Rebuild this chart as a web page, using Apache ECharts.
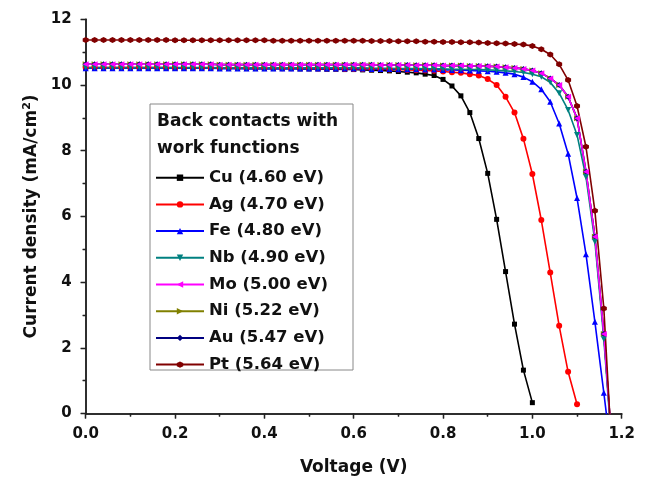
<!DOCTYPE html>
<html>
<head>
<meta charset="utf-8">
<script src="https://cdn.jsdelivr.net/npm/echarts@6/dist/echarts.min.js"></script>
<style>
  html, body { margin: 0; padding: 0; background: #fff; }
  #chart { width: 651px; height: 484px; }
</style>
</head>
<body>
<div id="chart"></div>
<script>
// voltage steps (V)
const voltage = [
  0.00, 0.02, 0.04, 0.06, 0.08, 0.10, 0.12, 0.14, 0.16, 0.18,
  0.20, 0.22, 0.24, 0.26, 0.28, 0.30, 0.32, 0.34, 0.36, 0.38,
  0.40, 0.42, 0.44, 0.46, 0.48, 0.50, 0.52, 0.54, 0.56, 0.58,
  0.60, 0.62, 0.64, 0.66, 0.68, 0.70, 0.72, 0.74, 0.76, 0.78,
  0.80, 0.82, 0.84, 0.86, 0.88, 0.90, 0.92, 0.94, 0.96, 0.98,
  1.00, 1.02, 1.04, 1.06, 1.08, 1.10, 1.12, 1.14, 1.16, 1.18
]

// current density (mA/cm2) per back contact
const cuJ = [
  10.52, 10.52, 10.52, 10.52, 10.52, 10.52, 10.52, 10.52, 10.52, 10.52,
  10.51, 10.51, 10.51, 10.51, 10.51, 10.51, 10.51, 10.51, 10.50, 10.50,
  10.50, 10.50, 10.50, 10.50, 10.49, 10.49, 10.49, 10.48, 10.48, 10.47,
  10.47, 10.46, 10.45, 10.44, 10.43, 10.41, 10.39, 10.37, 10.33, 10.29,
  10.17, 9.97, 9.67, 9.16, 8.37, 7.31, 5.91, 4.32, 2.72, 1.32,
  0.33
]
const agJ = [
  10.53, 10.53, 10.53, 10.53, 10.53, 10.53, 10.53, 10.53, 10.53, 10.53,
  10.52, 10.52, 10.52, 10.52, 10.52, 10.52, 10.52, 10.52, 10.52, 10.52,
  10.52, 10.52, 10.51, 10.51, 10.51, 10.51, 10.50, 10.50, 10.50, 10.49,
  10.49, 10.49, 10.48, 10.48, 10.47, 10.47, 10.46, 10.45, 10.44, 10.43,
  10.41, 10.39, 10.37, 10.33, 10.29, 10.18, 10.00, 9.64, 9.16, 8.36,
  7.29, 5.89, 4.29, 2.67, 1.27, 0.28
]
const feJ = [
  10.51, 10.51, 10.51, 10.51, 10.51, 10.51, 10.51, 10.51, 10.51, 10.51,
  10.51, 10.51, 10.51, 10.51, 10.51, 10.50, 10.50, 10.50, 10.50, 10.50,
  10.50, 10.50, 10.50, 10.50, 10.50, 10.50, 10.50, 10.50, 10.50, 10.50,
  10.50, 10.50, 10.49, 10.49, 10.49, 10.48, 10.48, 10.48, 10.47, 10.47,
  10.46, 10.46, 10.45, 10.44, 10.43, 10.42, 10.40, 10.37, 10.33, 10.24,
  10.10, 9.87, 9.49, 8.83, 7.91, 6.56, 4.85, 2.79, 0.63, -1.60
]
const nbJ = [
  10.53, 10.53, 10.53, 10.53, 10.53, 10.53, 10.53, 10.53, 10.53, 10.53,
  10.53, 10.53, 10.53, 10.53, 10.53, 10.52, 10.52, 10.52, 10.52, 10.52,
  10.52, 10.52, 10.52, 10.52, 10.52, 10.52, 10.52, 10.52, 10.52, 10.52,
  10.52, 10.52, 10.51, 10.51, 10.51, 10.50, 10.50, 10.50, 10.49, 10.49,
  10.49, 10.48, 10.48, 10.47, 10.47, 10.46, 10.45, 10.43, 10.41, 10.38,
  10.33, 10.25, 10.08, 9.75, 9.24, 8.48, 7.20, 5.23, 2.26, -1.40
]
const moJ = [
  10.63, 10.63, 10.63, 10.63, 10.63, 10.63, 10.63, 10.63, 10.63, 10.63,
  10.63, 10.63, 10.63, 10.63, 10.63, 10.62, 10.62, 10.62, 10.62, 10.62,
  10.62, 10.62, 10.62, 10.62, 10.62, 10.62, 10.62, 10.62, 10.62, 10.62,
  10.62, 10.62, 10.62, 10.61, 10.61, 10.61, 10.61, 10.60, 10.60, 10.60,
  10.59, 10.59, 10.59, 10.58, 10.58, 10.57, 10.56, 10.54, 10.52, 10.49,
  10.44, 10.36, 10.20, 10.00, 9.64, 8.99, 7.36, 5.38, 2.42, -1.30
]
const niJ = [
  10.63, 10.63, 10.63, 10.63, 10.63, 10.63, 10.63, 10.63, 10.63, 10.63,
  10.63, 10.63, 10.63, 10.63, 10.63, 10.62, 10.62, 10.62, 10.62, 10.62,
  10.62, 10.62, 10.62, 10.62, 10.62, 10.62, 10.62, 10.62, 10.62, 10.62,
  10.62, 10.62, 10.62, 10.61, 10.61, 10.61, 10.61, 10.60, 10.60, 10.60,
  10.59, 10.59, 10.59, 10.58, 10.58, 10.57, 10.56, 10.54, 10.52, 10.49,
  10.44, 10.36, 10.20, 10.00, 9.64, 8.99, 7.36, 5.38, 2.42, -1.30
]
const auJ = [
  10.63, 10.63, 10.63, 10.63, 10.63, 10.63, 10.63, 10.63, 10.63, 10.63,
  10.63, 10.63, 10.63, 10.63, 10.63, 10.62, 10.62, 10.62, 10.62, 10.62,
  10.62, 10.62, 10.62, 10.62, 10.62, 10.62, 10.62, 10.62, 10.62, 10.62,
  10.62, 10.62, 10.62, 10.61, 10.61, 10.61, 10.61, 10.60, 10.60, 10.60,
  10.59, 10.59, 10.59, 10.58, 10.58, 10.57, 10.56, 10.54, 10.52, 10.49,
  10.44, 10.36, 10.20, 10.00, 9.64, 8.99, 7.36, 5.38, 2.42, -1.30
]
const ptJ = [
  11.37, 11.37, 11.37, 11.37, 11.37, 11.37, 11.37, 11.37, 11.37, 11.37,
  11.36, 11.36, 11.36, 11.36, 11.36, 11.36, 11.36, 11.36, 11.36, 11.36,
  11.36, 11.35, 11.35, 11.35, 11.35, 11.35, 11.35, 11.35, 11.35, 11.35,
  11.35, 11.35, 11.34, 11.34, 11.34, 11.33, 11.33, 11.33, 11.32, 11.32,
  11.31, 11.31, 11.30, 11.30, 11.29, 11.28, 11.27, 11.26, 11.25, 11.23,
  11.19, 11.09, 10.93, 10.63, 10.15, 9.36, 8.12, 6.17, 3.20, -1.70
]

const legendNames = [
  'Cu (4.60 eV)', 'Ag (4.70 eV)', 'Fe (4.80 eV)', 'Nb (4.90 eV)',
  'Mo (5.00 eV)', 'Ni (5.22 eV)', 'Au (5.47 eV)', 'Pt (5.64 eV)'
]
const xTicks = [0.0, 0.2, 0.4, 0.6, 0.8, 1.0, 1.2]
const yTicks = [0, 2, 4, 6, 8, 10, 12]

// marker shapes
const triDown = 'path://M0,0 L10,0 L5,10 Z'
const triLeft = 'path://M10,0 L10,10 L0,5 Z'
const triRight = 'path://M0,0 L0,10 L10,5 Z'
const hexagon = 'path://M5,0 L9.33,2.5 L9.33,7.5 L5,10 L0.67,7.5 L0.67,2.5 Z'

const FONT = 'DejaVu Sans'

function pairs(ys) {
  return ys.map((y, i) => [voltage[i], y])
}

function lineSeries(name, ys, color, symbol, size) {
  return {
    name: name,
    type: 'line',
    data: pairs(ys),
    symbol: symbol,
    symbolSize: size,
    showAllSymbol: true,
    clip: true,
    lineStyle: { color: color, width: 1.6 },
    itemStyle: { color: color },
    emphasis: { disabled: true }
  }
}

const chart = echarts.init(document.getElementById('chart'), null, { renderer: 'canvas' })

const axisLine = { show: true, lineStyle: { color: '#222', width: 1.5 } }

const option = {
  animation: false,
  backgroundColor: '#fff',
  grid: { left: 85.7, right: 29.3, top: 19.3, bottom: 70.5 },
  legend: {
    data: legendNames,
    orient: 'vertical',
    left: 150,
    top: 162.7,
    itemWidth: 48,
    itemHeight: 8,
    itemGap: 6.7,
    textStyle: { fontFamily: FONT, fontWeight: 'bold', fontSize: 16.5, color: '#111', lineHeight: 20 },
    selectedMode: false
  },
  graphic: [
    {
      type: 'rect',
      shape: { x: 150, y: 104, width: 203, height: 266 },
      style: { fill: '#fff', stroke: '#888', lineWidth: 1 },
      z: 1
    },
    {
      type: 'text',
      left: 157,
      top: 108.4,
      style: {
        text: 'Back contacts with\nwork functions',
        fontFamily: FONT,
        fontWeight: 'bold',
        fontSize: 17,
        lineHeight: 26.6,
        fill: '#111'
      },
      z: 2
    }
  ],
  xAxis: [
    {
      type: 'value',
      position: 'bottom',
      min: 0,
      max: 1.2,
      interval: 0.2,
      name: 'Voltage (V)',
      nameLocation: 'middle',
      nameGap: 46,
      nameTextStyle: { fontFamily: FONT, fontWeight: 'bold', fontSize: 17, color: '#111' },
      axisLine: axisLine,
      axisTick: { show: true, inside: false, length: 5, lineStyle: { color: '#222', width: 1.3 } },
      minorTick: { show: true, splitNumber: 2, length: 3, lineStyle: { color: '#222', width: 1.3 } },
      axisLabel: {
        margin: 13,
        fontFamily: FONT,
        fontWeight: 'bold',
        fontSize: 15,
        color: '#111',
        formatter: v => xTicks.find(t => Math.abs(t - v) < 1e-6).toFixed(1)
      },
      splitLine: { show: false }
    },
    {
      type: 'value',
      position: 'top',
      min: 0,
      max: 1.2,
      interval: 0.2,
      axisLine: axisLine,
      axisTick: { show: true, inside: true, length: 5, lineStyle: { color: '#222', width: 1.3 } },
      minorTick: { show: true, splitNumber: 2, length: 3, lineStyle: { color: '#222', width: 1.3 } },
      axisLabel: { show: false },
      splitLine: { show: false }
    }
  ],
  yAxis: [
    {
      type: 'value',
      position: 'left',
      min: 0,
      max: 12,
      interval: 2,
      name: '{n|Current density (mA/cm}{s|2}{n|)}',
      nameLocation: 'middle',
      nameRotate: 90,
      nameGap: 42,
      nameTextStyle: {
        rich: {
          n: { fontFamily: FONT, fontWeight: 'bold', fontSize: 17, color: '#111' },
          s: { fontFamily: FONT, fontWeight: 'bold', fontSize: 11, color: '#111', verticalAlign: 'top', padding: [0, 0, 8, 0] }
        }
      },
      axisLine: axisLine,
      axisTick: { show: true, inside: false, length: 5, lineStyle: { color: '#222', width: 1.3 } },
      minorTick: { show: true, splitNumber: 2, length: 3, lineStyle: { color: '#222', width: 1.3 } },
      axisLabel: {
        margin: 14,
        fontFamily: FONT,
        fontWeight: 'bold',
        fontSize: 15,
        color: '#111',
        formatter: v => String(yTicks.find(t => t === v))
      },
      splitLine: { show: false }
    },
    {
      type: 'value',
      position: 'right',
      min: 0,
      max: 12,
      interval: 2,
      axisLine: axisLine,
      axisTick: { show: true, inside: true, length: 5, lineStyle: { color: '#222', width: 1.3 } },
      minorTick: { show: true, splitNumber: 2, length: 3, lineStyle: { color: '#222', width: 1.3 } },
      axisLabel: { show: false },
      splitLine: { show: false }
    }
  ],
  series: [
    // Ni and Au lie under the Mo curve, so they go first
    lineSeries(legendNames[5], niJ, '#808000', triRight, 6),
    lineSeries(legendNames[6], auJ, '#000080', 'diamond', 6),
    lineSeries(legendNames[0], cuJ, '#000000', 'rect', 5),
    lineSeries(legendNames[1], agJ, '#ff0000', 'circle', 6),
    lineSeries(legendNames[2], feJ, '#0000ff', 'triangle', 6),
    lineSeries(legendNames[3], nbJ, '#008080', triDown, 6),
    lineSeries(legendNames[4], moJ, '#ff00ff', triLeft, 6),
    lineSeries(legendNames[7], ptJ, '#800000', hexagon, 6)
  ]
}

chart.setOption(option)
</script>
</body>
</html>
